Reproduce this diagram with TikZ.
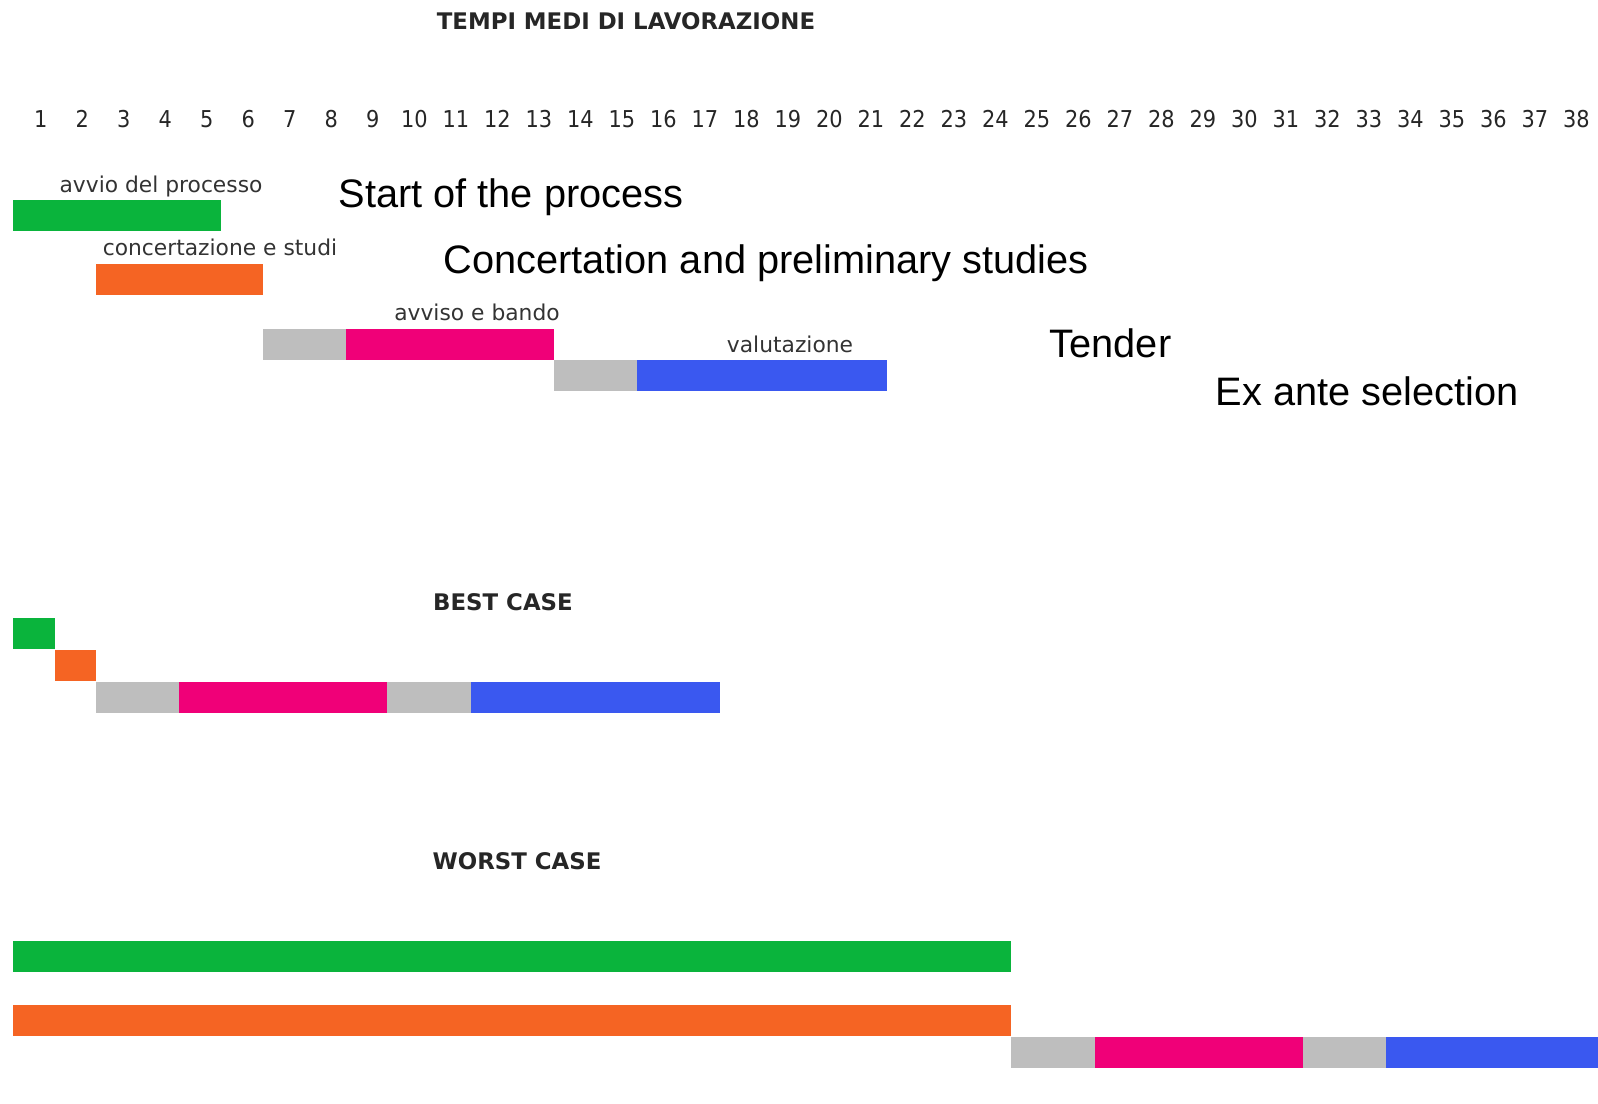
\documentclass[tikz,border=0pt]{standalone}
\usepackage{fontspec}
\setmainfont{DejaVu Sans}
\newfontfamily\engfont{Liberation Sans}
\newfontfamily\condfont{DejaVu Sans Condensed}

\definecolor{phGreen}{RGB}{10,180,60}
\definecolor{phOrange}{RGB}{245,100,35}
\definecolor{phPink}{RGB}{240,0,120}
\definecolor{phBlue}{RGB}{58,88,240}
\definecolor{phGray}{RGB}{190,190,190}

\tikzset{
  avvio/.style={fill=phGreen},
  concert/.style={fill=phOrange},
  bando/.style={fill=phPink},
  valut/.style={fill=phBlue},
  attesa/.style={fill=phGray},
  heading/.style={font=\fontsize{6.5}{8}\selectfont\bfseries, text=black!85, inner sep=0pt},
  phaselabel/.style={font=\fontsize{6.2}{7.5}\selectfont, text=black!80, inner sep=0pt, anchor=base},
  englabel/.style={font=\engfont\fontsize{11.3}{13.5}\selectfont, text=black, inner sep=0pt, anchor=base west},
  daynum/.style={font=\condfont\fontsize{6.6}{8}\selectfont, text=black!85, inner sep=0pt, anchor=base}
}

% one bar of the chart: style, first and last day boundary, top edge
\newcommand\ganttbar[4]{%
  \fill[#1] ({13+41.6*#2},{#4}) rectangle ({min(13+41.6*#3,1598)},{#4+31});}

\begin{document}
\begin{tikzpicture}[x=0.01cm,y=-0.01cm]
\useasboundingbox (0,0) rectangle (1598,1103);

% title and day scale
\node[heading] (title) at (626,21.4) {TEMPI MEDI DI LAVORAZIONE};
\foreach \i in {1,...,38}
  \node[daynum] (d\i) at ({40.8+41.5*(\i-1)},127) {\i};

% average durations
\ganttbar{avvio}{0}{5}{200}
\ganttbar{concert}{2}{6}{264}
\ganttbar{attesa}{6}{8}{329}
\ganttbar{bando}{8}{13}{329}
\ganttbar{attesa}{13}{15}{360}
\ganttbar{valut}{15}{21}{360}

\node[phaselabel] (lavvio) at (161,192) {avvio del processo};
\node[phaselabel] (lconc) at (220,255) {concertazione e studi};
\node[phaselabel] (lbando) at (477,320) {avviso e bando};
\node[phaselabel] (lvalut) at (790,352) {valutazione};

\node[englabel] (estart) at (338,207) {Start of the process};
\node[englabel] (econc) at (443,273) {Concertation and preliminary studies};
\node[englabel] (etender) at (1049,357) {Tender};
\node[englabel] (eselect) at (1215,405) {Ex ante selection};

% best case
\node[heading] (best) at (503,602.5) {BEST CASE};
\ganttbar{avvio}{0}{1}{618}
\ganttbar{concert}{1}{2}{650}
\ganttbar{attesa}{2}{4}{682}
\ganttbar{bando}{4}{9}{682}
\ganttbar{attesa}{9}{11}{682}
\ganttbar{valut}{11}{17}{682}

% worst case
\node[heading] (worst) at (517,861) {WORST CASE};
\ganttbar{avvio}{0}{24}{941}
\ganttbar{concert}{0}{24}{1005}
\ganttbar{attesa}{24}{26}{1037}
\ganttbar{bando}{26}{31}{1037}
\ganttbar{attesa}{31}{33}{1037}
\ganttbar{valut}{33}{39}{1037}
\end{tikzpicture}
\end{document}
